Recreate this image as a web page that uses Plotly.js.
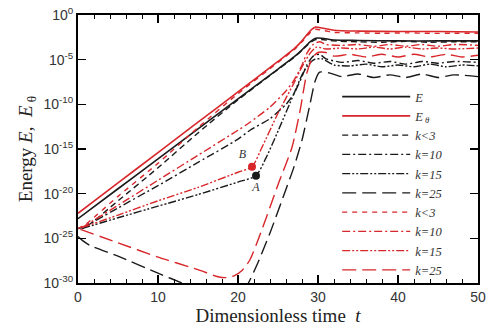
<!DOCTYPE html>
<html>
<head>
<meta charset="utf-8">
<script src="https://cdn.plot.ly/plotly-3.0.1.min.js"></script>
<style>
  html, body { margin: 0; padding: 0; background: #fff; }
  #energy { width: 498px; height: 332px; }
</style>
</head>
<body>
<div id="energy"></div>
<script>
// values are log10 of energy
var tE = [0, 5, 10, 15, 20, 25, 27, 28, 29, 29.7, 30.5, 32, 35, 40, 45, 50];
var logE = [-22.8, -19.45, -16.1, -12.75, -9.4, -6.05, -4.7, -3.9, -3.0, -2.6, -2.6, -2.8, -2.85, -2.9, -2.9, -2.9];
var logE0 = [-22.2, -18.8, -15.4, -12.0, -8.6, -5.2, -3.8, -2.9, -1.8, -1.35, -1.45, -1.7, -1.8, -1.85, -1.85, -1.9];

var tK3 = [0, 1, 5, 10, 15, 20, 25, 27, 28, 29, 29.7, 30.5, 32, 35, 38, 41, 44, 47, 50];
var logK3 = [-23.9, -23.7, -20.8, -17.1, -13.2, -9.5, -6.1, -4.75, -3.95, -3.1, -2.75, -2.75, -2.9, -3.0, -3.05, -2.95, -3.05, -3.0, -3.0];
var logK3r = [-23.9, -23.4, -20.3, -16.6, -12.6, -8.8, -5.3, -3.9, -3.0, -2.0, -1.6, -1.7, -1.95, -2.0, -2.05, -2.0, -2.05, -2.05, -2.05];

var tK10 = [0.5, 5, 10, 15, 20, 21.5, 24, 26, 27, 28, 28.6, 29.4, 30.2, 31, 33, 35, 37, 39, 41, 43, 45, 47, 50];
var logK10 = [-23.9, -21.6, -19.1, -16.5, -13.9, -12.9, -11.6, -10.0, -8.8, -6.9, -5.6, -4.6, -4.4, -4.9, -5.3, -5.1, -5.4, -5.2, -5.5, -5.2, -5.4, -5.2, -5.3];
var logK10r = [-23.8, -21.3, -18.5, -15.7, -12.9, -12.0, -10.3, -8.5, -7.3, -5.6, -4.3, -3.3, -3.0, -3.3, -3.4, -3.3, -3.5, -3.3, -3.5, -3.3, -3.5, -3.3, -3.4];

var tK15 = [0.5, 5, 10, 15, 20, 22.25, 23.5, 25, 27, 28, 28.6, 29.5, 30.5, 32, 34, 36, 38, 40, 42, 44, 46, 48, 50];
var logK15 = [-23.9, -22.7, -21.4, -20.1, -18.7, -18.0, -16.0, -13.0, -8.8, -6.7, -5.8, -5.0, -4.9, -5.6, -5.7, -5.5, -5.8, -5.6, -5.8, -5.5, -5.8, -5.6, -5.7];
var tK15r = [0.5, 5, 10, 15, 20, 21.75, 23, 25, 27, 28, 29, 29.8, 31, 33, 35, 37, 39, 41, 43, 45, 47, 50];
var logK15r = [-23.8, -22.4, -20.8, -19.3, -17.6, -17.0, -14.8, -11.0, -7.6, -5.8, -4.3, -3.6, -3.8, -3.7, -3.8, -3.6, -3.8, -3.6, -3.8, -3.7, -3.8, -3.7];

var tK25 = [0, 0.5, 1.5, 5, 10, 13, 16, 19, 20.5, 21.3, 22.5, 24, 26, 27, 28, 29, 29.6, 30.2, 31.5, 33, 35, 37, 39, 41, 43, 45, 47, 50];
var logK25 = [-24.8, -25.2, -25.8, -27.0, -28.9, -30.0, -31.0, -31.5, -31.0, -30.0, -27.7, -24.4, -19.5, -17.0, -14.0, -10.0, -7.5, -6.4, -6.5, -6.9, -6.6, -7.0, -6.7, -7.0, -6.6, -7.0, -6.7, -6.9];
var tK25r = [0.3, 5, 10, 15, 17.5, 18.5, 19.5, 20.5, 21.5, 23, 25, 26.75, 27.8, 28.6, 29.3, 30, 31, 32, 34, 36, 38, 40, 42, 44, 46, 48, 50];
var logK25r = [-24.0, -25.5, -27.1, -28.5, -29.3, -29.4, -29.2, -28.6, -27.4, -24.0, -19.0, -14.8, -10.5, -6.5, -4.8, -4.2, -4.2, -4.6, -4.4, -4.7, -4.4, -4.7, -4.4, -4.7, -4.4, -4.7, -4.5];

var pointT = [21.75, 22.25];
var pointLog = [-17.0, -18.0];
var pointLabels = ["B", "A"];

var yTickExp = [0, -5, -10, -15, -20, -25, -30];

var RED = "#d8262a";
var BLACK = "#1a1a1a";
var DASH_DOT = "8px,3px,2px,3px";
var DASH_DOT_DOT = "8px,2px,2px,2px,2px,2px";

function pw(arr) { return arr.map(function (v) { return Math.pow(10, v); }); }

function line(x, logs, name, color, dash, width) {
  return {
    x: x, y: pw(logs), name: name, mode: "lines", type: "scatter",
    line: { color: color, dash: dash, width: width || 1.4, shape: "spline", smoothing: 0.6 }
  };
}

var data = [
  line(tE, logE, "E", BLACK, "solid", 1.6),
  line(tE, logE0, "E<sub> θ</sub>", RED, "solid", 1.6),
  line(tK3, logK3, "k<3", BLACK, "6px,4px"),
  line(tK10, logK10, "k=10", BLACK, DASH_DOT),
  line(tK15, logK15, "k=15", BLACK, DASH_DOT_DOT),
  line(tK25, logK25, "k=25", BLACK, "14px,6px"),
  line(tK3, logK3r, "k<3", RED, "5px,5px"),
  line(tK10, logK10r, "k=10", RED, DASH_DOT),
  line(tK15r, logK15r, "k=15", RED, DASH_DOT_DOT),
  line(tK25r, logK25r, "k=25", RED, "14px,6px"),
  {
    x: pointT, y: pw(pointLog), mode: "markers+text", type: "scatter",
    text: pointLabels, textposition: ["top left", "bottom center"],
    textfont: { family: "Liberation Serif", size: 12, color: "#333", style: "italic" },
    marker: { color: [RED, BLACK], size: 8 },
    showlegend: false, hoverinfo: "skip"
  }
];

var layout = {
  width: 498,
  height: 332,
  margin: { l: 78, r: 20, t: 15, b: 49 },
  paper_bgcolor: "#fff",
  plot_bgcolor: "#fff",
  font: { family: "Liberation Sans", size: 14, color: "#333" },
  showlegend: true,
  legend: {
    x: 0.648, y: 0.75, xanchor: "left", yanchor: "top",
    bgcolor: "rgba(0,0,0,0)",
    itemwidth: 68,
    tracegroupgap: 0,
    font: { family: "Liberation Serif", size: 12.5, color: "#333", style: "italic" }
  },
  xaxis: {
    range: [0, 50],
    tickvals: [0, 10, 20, 30, 40, 50],
    ticks: "inside", ticklen: 8, tickwidth: 1.5, tickcolor: "#000",
    minor: { dtick: 2, ticks: "inside", ticklen: 4, tickwidth: 1, tickcolor: "#000" },
    showline: true, linewidth: 2, linecolor: "#000", mirror: "ticks",
    showgrid: false, zeroline: false,
    tickfont: { family: "Liberation Sans", size: 14, color: "#333" },
    title: { text: "Dimensionless time  <i>t</i>", font: { family: "Liberation Serif", size: 19, color: "#222" }, standoff: 3 }
  },
  yaxis: {
    type: "log",
    range: [-30, 0],
    tickvals: pw(yTickExp),
    ticktext: yTickExp.map(function (e) { return "10<sup>" + e + "</sup>"; }),
    ticks: "inside", ticklen: 8, tickwidth: 1.5, tickcolor: "#000",
    showline: true, linewidth: 2, linecolor: "#000", mirror: "ticks",
    showgrid: false, zeroline: false,
    tickfont: { family: "Liberation Sans", size: 14, color: "#333" },
    title: { text: "Energy <i>E</i>,  <i>E</i><sub> θ</sub>", font: { family: "Liberation Serif", size: 19, color: "#222" }, standoff: 6 }
  }
};

Plotly.newPlot("energy", data, layout, { displayModeBar: false, staticPlot: true });
</script>
</body>
</html>
